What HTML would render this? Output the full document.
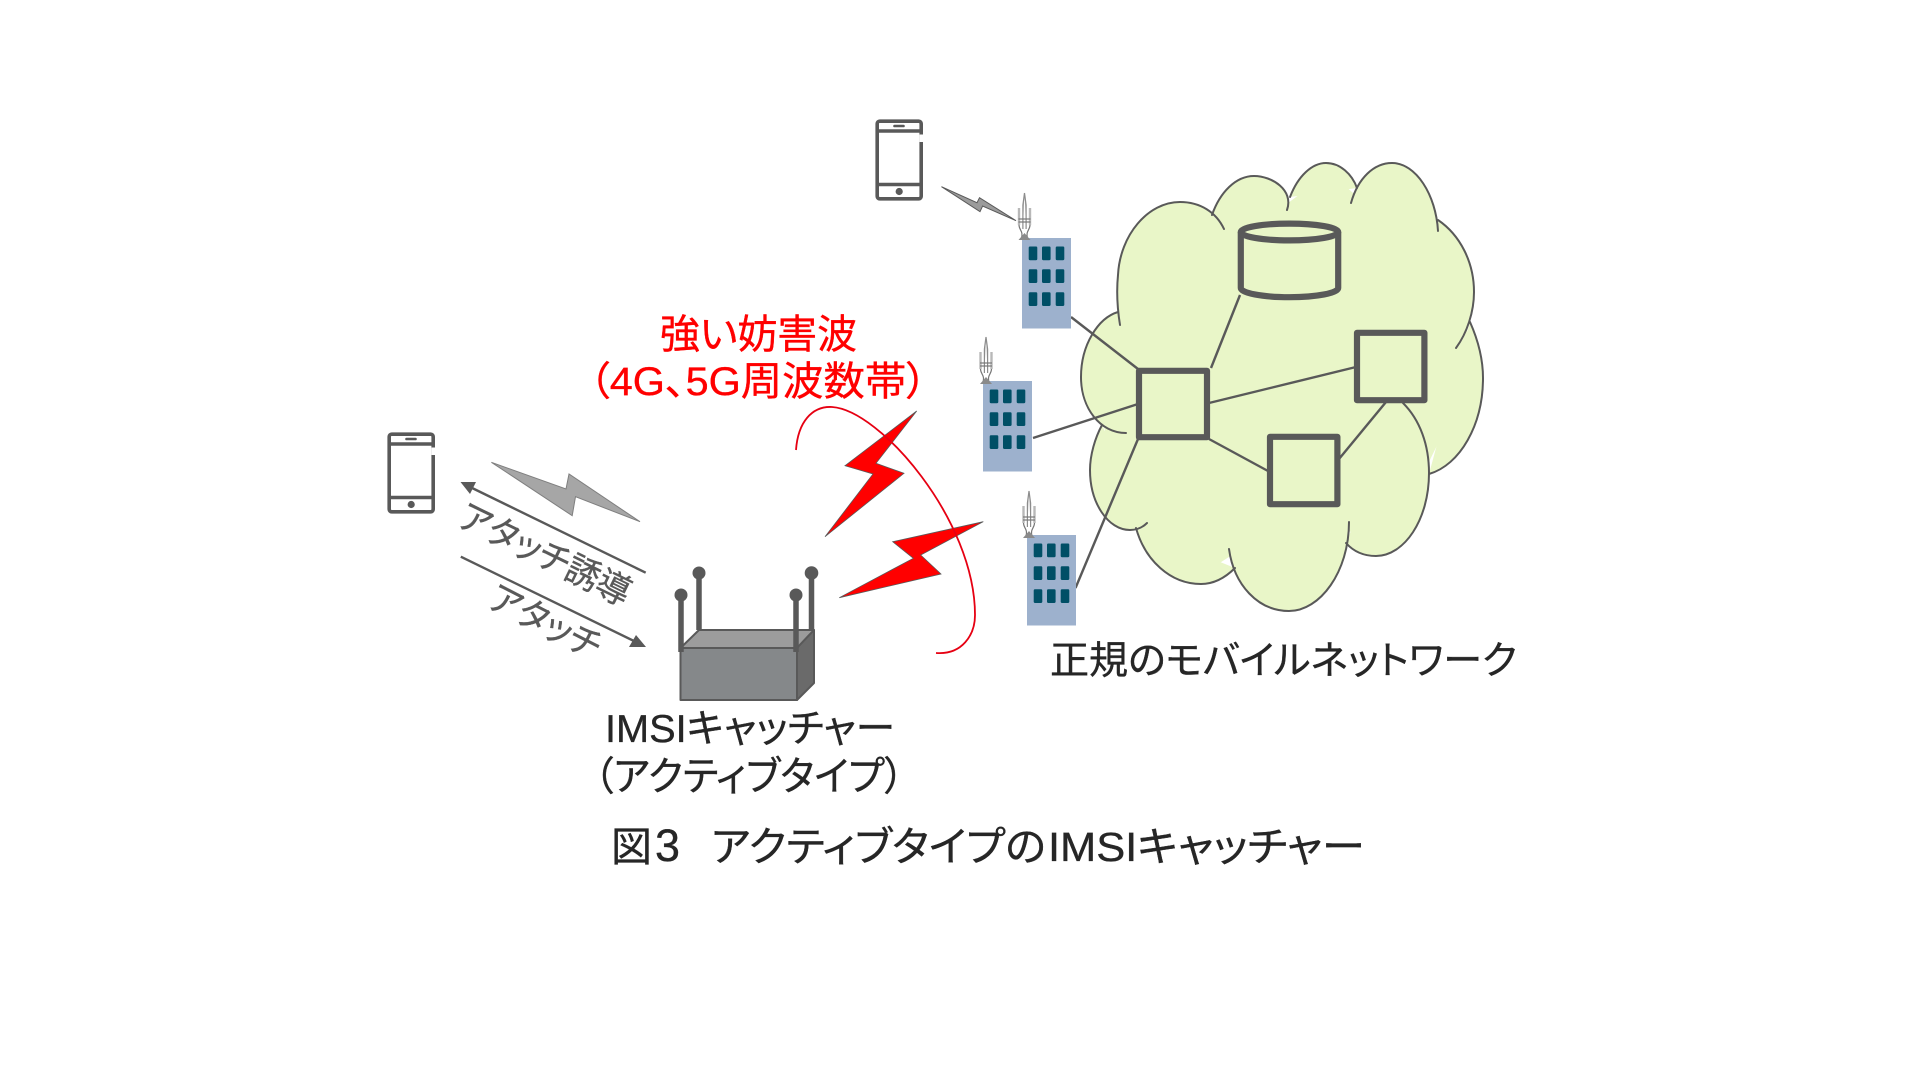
<!DOCTYPE html>
<html lang="ja"><head><meta charset="utf-8">
<style>
html,body{margin:0;padding:0;background:#fff;width:1920px;height:1080px;overflow:hidden}
svg{display:block}
text{font-family:"Liberation Sans","Noto Sans CJK JP",sans-serif;font-feature-settings:"palt";fill:#262626;stroke:#262626;stroke-width:.35px}
</style></head><body>
<svg width="1920" height="1080" viewBox="0 0 1920 1080" xmlns="http://www.w3.org/2000/svg">
<defs>
<g id="phone" fill="none" stroke="#595959" stroke-width="3.6">
  <rect x="1.7" y="1.7" width="44" height="77.6" rx="2.5"/>
  <line x1="1.7" y1="11.5" x2="45.7" y2="11.5"/>
  <line x1="1.7" y1="65" x2="45.7" y2="65"/>
  <line x1="19" y1="6.5" x2="28" y2="6.5" stroke-width="2.6" stroke-linecap="round"/>
  <circle cx="23.7" cy="72" r="3.6" fill="#595959" stroke="none"/>
  <rect x="44" y="15" width="3.5" height="7.5" fill="#fff" stroke="none"/>
</g>
<g id="ant" fill="none" stroke="#8c8c8c" stroke-width="1.2">
  <path d="M0,0 L1.6,12 L1.6,36 M0,0 L-1.6,12 L-1.6,36" fill="#b5b5b5"/>
  <line x1="-5.5" y1="15" x2="-5.5" y2="32" stroke-width="2.4" stroke="#b8b8b8"/>
  <line x1="5.5" y1="15" x2="5.5" y2="32" stroke-width="2.4" stroke="#b8b8b8"/>
  <line x1="-6" y1="26" x2="6" y2="26" stroke="#777"/>
  <line x1="-6" y1="29" x2="6" y2="29" stroke="#777"/>
  <path d="M-5.5,32 C-5.5,37 -1,38 -3,45 M5.5,32 C5.5,37 1,38 3,45" stroke="#777"/>
  <path d="M-6,47 L0,40 L6,47 Z" fill="#8a8a8a" stroke="none"/>
</g>
<g id="bld">
  <rect x="0" y="0" width="49" height="90.5" fill="#9db1cd"/>
  <g fill="#004f66">
    <rect x="6.7" y="8.5" width="8.6" height="13.7" rx="1.2"/><rect x="20" y="8.5" width="8.6" height="13.7" rx="1.2"/><rect x="33.7" y="8.5" width="8.6" height="13.7" rx="1.2"/>
    <rect x="6.7" y="31.3" width="8.6" height="13.7" rx="1.2"/><rect x="20" y="31.3" width="8.6" height="13.7" rx="1.2"/><rect x="33.7" y="31.3" width="8.6" height="13.7" rx="1.2"/>
    <rect x="6.7" y="54.3" width="8.6" height="13.7" rx="1.2"/><rect x="20" y="54.3" width="8.6" height="13.7" rx="1.2"/><rect x="33.7" y="54.3" width="8.6" height="13.7" rx="1.2"/>
  </g>
</g>
</defs>

<!-- cloud fill -->
<g fill="#e9f6c8" stroke="none">
  <path d="M1120,325 C1116,300 1117,285 1118,275 C1120,235 1148,202 1180,202 C1200,202 1216,212 1224,229Z"/>
  <path d="M1212,215 C1220,192 1236,176 1254,176 C1272,176 1294,190 1287,210Z"/>
  <path d="M1290,197 C1298,176 1312,163 1326,163 C1340,163 1352,174 1357,188Z"/>
  <path d="M1351,203 C1358,178 1374,163 1392,163 C1416,163 1436,195 1438,231Z"/>
  <path d="M1438,220 C1460,235 1474,262 1474,292 C1474,312 1467,333 1456,348Z"/>
  <path d="M1470,322 C1478,340 1483,358 1483,378 C1483,425 1460,465 1429,474Z"/>
  <path d="M1403,403 C1420,420 1429,445 1429,473 C1429,520 1404,556 1376,556 C1364,556 1354,552 1346,543Z"/>
  <path d="M1349,522 C1349,572 1320,611 1289,611 C1258,611 1234,585 1229,549Z"/>
  <path d="M1235,568 C1225,578 1213,584 1201,584 C1170,584 1145,560 1136,528Z"/>
  <path d="M1147,523 C1142,528 1136,530 1130,530 C1108,530 1090,503 1090,470 C1090,455 1095,438 1102,425Z"/>
  <path d="M1126,433 C1100,433 1081,408 1081,377 C1081,345 1098,318 1118,312Z"/>
  <polygon points="1120,325 1125,260 1180,215 1212,218 1235,200 1288,203 1330,172 1353,193 1392,172 1430,215 1440,224 1465,292 1470,378 1425,470 1376,540 1345,530 1289,600 1232,555 1201,575 1138,528 1095,470 1105,430 1085,377"/>
</g>
<!-- cloud outline -->
<g fill="none" stroke="#595959" stroke-width="2" stroke-linecap="round">
  <path d="M1120,325 C1116,300 1117,285 1118,275 C1120,235 1148,202 1180,202 C1200,202 1216,212 1224,229"/>
  <path d="M1212,215 C1220,192 1236,176 1254,176 C1272,176 1294,190 1287,210"/>
  <path d="M1290,197 C1298,176 1312,163 1326,163 C1340,163 1352,174 1357,188"/>
  <path d="M1351,203 C1358,178 1374,163 1392,163 C1416,163 1436,195 1438,231"/>
  <path d="M1438,220 C1460,235 1474,262 1474,292 C1474,312 1467,333 1456,348"/>
  <path d="M1470,322 C1478,340 1483,358 1483,378 C1483,425 1460,465 1429,474"/>
  <path d="M1403,403 C1420,420 1429,445 1429,473 C1429,520 1404,556 1376,556 C1364,556 1354,552 1346,543"/>
  <path d="M1349,522 C1349,572 1320,611 1289,611 C1258,611 1234,585 1229,549"/>
  <path d="M1235,568 C1225,578 1213,584 1201,584 C1170,584 1145,560 1136,528"/>
  <path d="M1147,523 C1142,528 1136,530 1130,530 C1108,530 1090,503 1090,470 C1090,455 1095,438 1102,425"/>
  <path d="M1126,433 C1100,433 1081,408 1081,377 C1081,345 1098,318 1118,312"/>
</g>

<!-- network links -->
<g stroke="#595959" stroke-width="2.4" fill="none">
  <line x1="1071" y1="317" x2="1138" y2="369"/>
  <line x1="1240" y1="295" x2="1211" y2="368"/>
  <line x1="1209" y1="403" x2="1356" y2="367"/>
  <line x1="1033" y1="438" x2="1138" y2="404"/>
  <line x1="1209" y1="439" x2="1268" y2="471"/>
  <line x1="1386" y1="402" x2="1339" y2="459"/>
  <line x1="1138" y1="439" x2="1075.5" y2="588"/>
</g>
<!-- network nodes -->
<g fill="none" stroke="#595959" stroke-width="6.2" stroke-linejoin="round">
  <rect x="1139" y="370.8" width="68" height="66.4"/>
  <rect x="1357" y="332.8" width="67.4" height="67.4"/>
  <rect x="1270" y="436.8" width="67.4" height="67.4"/>
  <path d="M1240.8,232 V288 C1240.8,293 1262,297.2 1289.5,297.2 C1317,297.2 1338.2,293 1338.2,288 V232"/>
  <ellipse cx="1289.5" cy="232" rx="48.7" ry="8.4"/>
</g>

<!-- buildings -->
<use href="#bld" x="1022" y="238"/>
<use href="#bld" x="983" y="381"/>
<use href="#bld" x="1027" y="535"/>
<use href="#ant" x="1024.5" y="193"/>
<use href="#ant" x="986" y="337"/>
<use href="#ant" x="1029" y="491"/>

<!-- phones -->
<use href="#phone" x="875.5" y="119.5"/>
<use href="#phone" x="387.5" y="432.5"/>

<!-- gray lightning -->
<polygon points="941.5,186.7 977,202.7 979.5,197.7 1016,220.7 982.6,206 980,211.7" fill="#9b9b9b" stroke="#595959" stroke-width="1"/>
<polygon points="491.4,462.3 566,489 569,474 640,521.7 575.5,496.7 572.2,515.7" fill="#a6a6a6" stroke="#7f7f7f" stroke-width="1"/>

<!-- arrows -->
<g stroke="#595959" stroke-width="2.4">
  <line x1="468" y1="486" x2="645.7" y2="572.7"/>
  <line x1="460.8" y1="556.7" x2="636" y2="642"/>
</g>
<polygon points="460.5,482 476,482 470,494" fill="#595959"/>
<polygon points="646,647 629,647 636,635" fill="#595959"/>

<text font-size="36" transform="translate(456,525) rotate(26)" textLength="186" lengthAdjust="spacingAndGlyphs" style="fill:#595959;stroke:#595959">アタッチ誘導</text>
<text font-size="36" transform="translate(486,606) rotate(27)" textLength="120" lengthAdjust="spacingAndGlyphs" style="fill:#595959;stroke:#595959">アタッチ</text>

<!-- router -->
<g stroke="#595959" stroke-width="2" stroke-linejoin="round">
  <polygon points="680.5,648 699,630 814,630 797,648" fill="#9c9c9c"/>
  <polygon points="797,648 814,630 814,683 797,700" fill="#6a6a6a"/>
  <rect x="680.5" y="648" width="116.5" height="52" fill="#85888a"/>
</g>
<g stroke="#595959" stroke-width="5.5" fill="#595959">
  <line x1="699" y1="573" x2="699" y2="630"/>
  <line x1="811.5" y1="573" x2="811.5" y2="630"/>
  <line x1="681" y1="595" x2="681" y2="652"/>
  <line x1="796" y1="595" x2="796" y2="652"/>
</g>
<g fill="#595959">
  <circle cx="699" cy="573" r="6.5"/><circle cx="811.5" cy="573" r="6.8"/>
  <circle cx="681" cy="595" r="6.5"/><circle cx="796" cy="595" r="6.5"/>
</g>

<!-- red jamming -->
<polygon points="916.7,411 845,465.7 873,474 825,536.7 904,473.3 876,463.3" fill="#ff0000" stroke="#595959" stroke-width="0.8"/>
<polygon points="983.3,521.7 892.7,541.7 913.3,558.3 839.3,597.7 941,574 920.7,555" fill="#ff0000" stroke="#595959" stroke-width="0.8"/>
<path d="M796,450 C798,422 812,406 832,407 C880,410 975,520 975,615 C975,635 962,655 936,653" fill="none" stroke="#e60012" stroke-width="1.8"/>

<!-- labels -->
<text x="660" y="348" font-size="40" textLength="197" lengthAdjust="spacingAndGlyphs" style="fill:#ff0000;stroke:#ff0000">強い妨害波</text>
<text x="589" y="395" font-size="40" textLength="338" lengthAdjust="spacingAndGlyphs" style="fill:#ff0000;stroke:#ff0000">（4G、5G周波数帯）</text>
<text x="605" y="742" font-size="39" textLength="290" lengthAdjust="spacingAndGlyphs">IMSIキャッチャー</text>
<text x="594" y="790" font-size="40" textLength="310" lengthAdjust="spacingAndGlyphs">（アクティブタイプ）</text>
<text x="1050" y="674" font-size="39" textLength="467" lengthAdjust="spacingAndGlyphs">正規のモバイルネットワーク</text>
<text x="611" y="861" font-size="41" textLength="41" lengthAdjust="spacingAndGlyphs">図</text>
<text x="655" y="861" font-size="45" textLength="25" lengthAdjust="spacingAndGlyphs">3</text>
<text x="711" y="861" font-size="41" textLength="335" lengthAdjust="spacingAndGlyphs">アクティブタイプの</text>
<text x="1048" y="861" font-size="41" textLength="317" lengthAdjust="spacingAndGlyphs">IMSIキャッチャー</text>
</svg>
</body></html>
